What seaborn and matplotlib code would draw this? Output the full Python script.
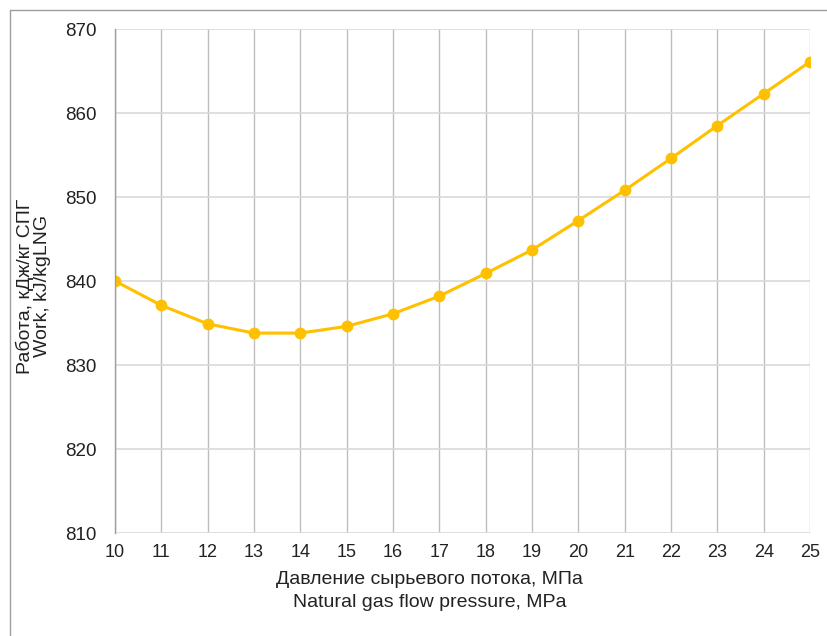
import numpy as np
import pandas as pd
import seaborn as sns
import matplotlib
matplotlib.use("Agg")
from matplotlib import pyplot as plt
from matplotlib.lines import Line2D

# pressure, MPa
pressure = [10, 11, 12, 13, 14, 15, 16, 17, 18, 19, 20, 21, 22, 23, 24, 25]
# work, kJ/kg LNG
work = [840.0, 837.1, 834.9, 833.8, 833.8, 834.6, 836.1, 838.2,
        840.9, 843.7, 847.2, 850.8, 854.6, 858.5, 862.3, 866.1]

y_ticks = [810, 820, 830, 840, 850, 860, 870]
x_ticks = list(range(10, 26))

df = pd.DataFrame({"pressure": pressure, "work": work})

sns.set_theme(style="white")
plt.rcParams['font.family'] = ['Liberation Sans', 'DejaVu Sans']

fig = plt.figure(figsize=(8.27, 6.36), dpi=100)
ax = fig.add_axes([115 / 827, 1 - 533 / 636, 695 / 827, 504 / 636])

sns.lineplot(data=df, x="pressure", y="work", ax=ax, color="#FFC000",
             linewidth=2.2, marker="o", markersize=8.5, markeredgewidth=0)

ax.set_xlim(10, 25)
ax.set_ylim(810, 870)
ax.set_xticks(x_ticks)
ax.set_yticks(y_ticks)
ax.grid(True, axis="x", color="#bdbdbd", linewidth=1)
ax.grid(True, axis="y", color="#d9d9d9", linewidth=1.2)
ax.set_axisbelow(True)
for side in ["top", "right", "bottom"]:
    ax.spines[side].set_visible(False)
ax.spines["left"].set_color("#9e9e9e")
ax.spines["left"].set_linewidth(1)

ax.tick_params(axis="both", length=0, colors="#222222")
ax.tick_params(axis="y", pad=13, labelsize=13.5)
ax.tick_params(axis="x", pad=8, labelsize=13)

ax.set_xlabel("Давление сырьевого потока, МПа\nNatural gas flow pressure, МPa",
              fontsize=14, color="#222222", linespacing=1.45)
ax.xaxis.set_label_coords(0.453, -0.075, transform=ax.transAxes)
ax.xaxis.label.set_va("top")
ax.set_ylabel("Работа, кДж/кг СПГ\nWork, kJ/kgLNG", fontsize=14,
              color="#222222", linespacing=1.0)
ax.yaxis.set_label_coords(-0.117, 0.49, transform=ax.transAxes)
ax.yaxis.label.set_va("center")

# outer chart border (top and left only visible)
fig.add_artist(Line2D([9.5 / 827, 9.5 / 827], [0, 1 - 10 / 636],
                      transform=fig.transFigure, color="#9e9e9e", linewidth=1))
fig.add_artist(Line2D([9.5 / 827, 1], [1 - 10 / 636, 1 - 10 / 636],
                      transform=fig.transFigure, color="#9e9e9e", linewidth=1))

fig.savefig("out.png", dpi=100)
